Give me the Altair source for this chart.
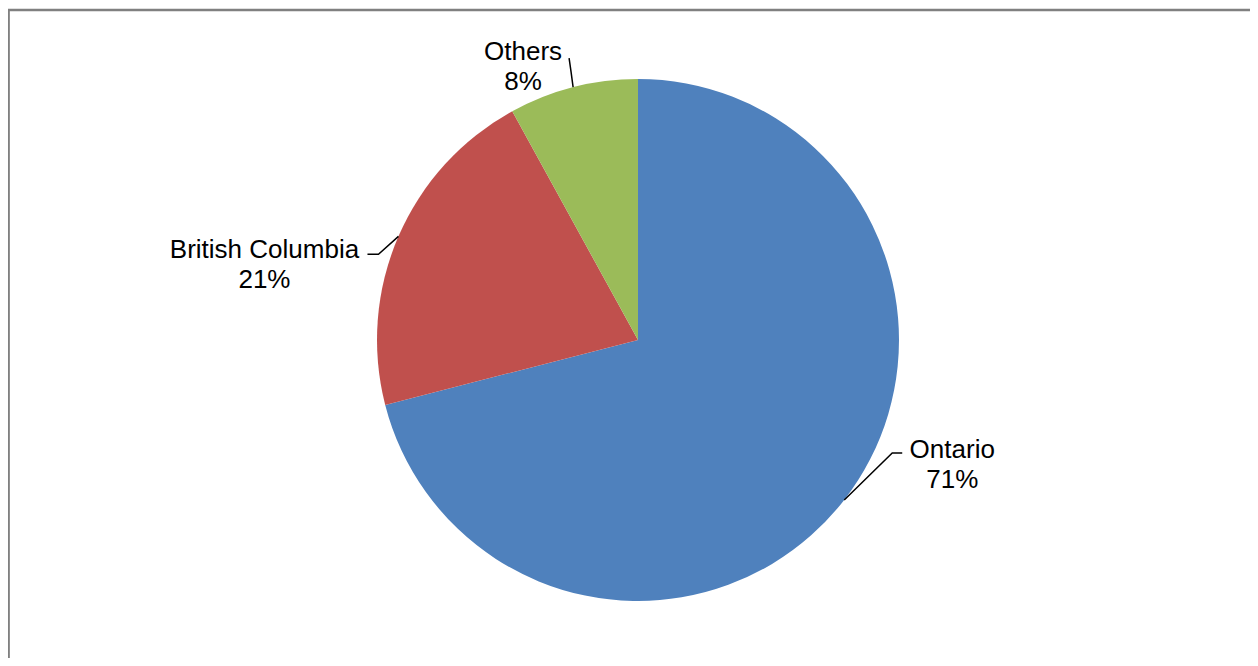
import math
import altair as alt
import pandas as pd

# ---- data ----
categories = ["Ontario", "British Columbia", "Others"]
shares = [71, 21, 8]
pct_labels = ["71%", "21%", "8%"]
colors = ["#4F81BD", "#C0504D", "#9BBB59"]

# ---- layout / style (pixels, chart coordinates) ----
W, H = 1242, 650
CX, CY, R = 630, 332, 261
# leader line geometry relative to the slice mid-point on the rim: (elbow, end)
leader_offsets = {
    "Ontario": [(48, -47), (58, -47)],
    "British Columbia": [(-20, 18), (-31, 18)],
    "Others": [(-2, -15), (-4, -29)],
}
# label first-line baseline position relative to the rim anchor
label_offsets = {
    "Ontario": (108, -42),
    "British Columbia": (-134, 22),
    "Others": (-50, -27),
}

total = sum(shares)
pie = pd.DataFrame({"cat": categories, "value": shares, "idx": range(len(categories))})

rows_line, rows_text = [], []
cum = 0
for cat, v, p in zip(categories, shares, pct_labels):
    mid = (cum + v / 2) / total * 2 * math.pi
    cum += v
    ax = CX + R * math.sin(mid)
    ay = CY - R * math.cos(mid)
    pts = [(ax, ay)] + [(ax + dx, ay + dy) for dx, dy in leader_offsets[cat]]
    for i, (px, py) in enumerate(pts):
        rows_line.append({"cat": cat, "seq": i, "px": px, "py": py})
    tx, ty = label_offsets[cat]
    rows_text.append({"cat": cat, "txt": f"{cat}\n{p}", "px": ax + tx, "py": ay + ty})

lines = pd.DataFrame(rows_line)
texts = pd.DataFrame(rows_text)
frame_src = pd.DataFrame({"k": [0]})

arcs = alt.Chart(pie).mark_arc(outerRadius=R, stroke=None).encode(
    theta=alt.Theta("value:Q", stack=True),
    order=alt.Order("idx:Q"),
    color=alt.Color("cat:N", scale=alt.Scale(domain=categories, range=colors), legend=None),
    x=alt.value(CX),
    y=alt.value(CY),
)

leaders = alt.Chart(lines).mark_line(color="black", strokeWidth=1.5).encode(
    x=alt.X("px:Q", scale=None),
    y=alt.Y("py:Q", scale=None),
    detail="cat:N",
    order="seq:Q",
)

labels = alt.Chart(texts).mark_text(
    align="center", baseline="alphabetic", lineBreak="\n", lineHeight=30,
    fontSize=26, font="Liberation Sans", color="black",
).encode(
    x=alt.X("px:Q", scale=None),
    y=alt.Y("py:Q", scale=None),
    text="txt:N",
)

left_border = alt.Chart(frame_src).mark_rule(color="#808080", strokeWidth=2.5).encode(
    x=alt.value(0.6), y=alt.value(1), y2=alt.value(H)
)
top_border = alt.Chart(frame_src).mark_rule(color="#808080", strokeWidth=2.5).encode(
    x=alt.value(0), x2=alt.value(W), y=alt.value(2)
)

chart = alt.layer(arcs, leaders, labels, left_border, top_border).properties(
    width=W, height=H,
    autosize="none",
    padding=0,
).configure_view(stroke=None)

chart.save("out.html", embed_options={"renderer": "svg", "actions": False})
